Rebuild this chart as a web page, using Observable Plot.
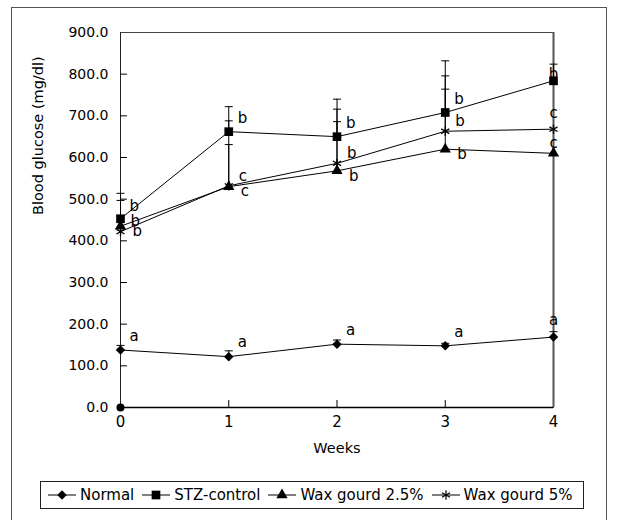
<!DOCTYPE html>
<html><head><meta charset="utf-8">
<script src="https://cdn.jsdelivr.net/npm/d3@7"></script>
<script src="https://cdn.jsdelivr.net/npm/@observablehq/plot@0.6"></script>
<style>
body{margin:0;background:#fff;}
#wrap{position:relative;width:618px;height:520px;overflow:hidden;font-family:"DejaVu Sans",sans-serif;background:#fff;}
#outer{position:absolute;left:11px;top:7px;width:594px;height:540px;border:1px solid #555;}
#chart{position:absolute;left:0;top:0;}
#legend{position:absolute;left:40px;top:481px;width:544px;height:28px;border:1px solid #222;box-sizing:border-box;display:flex;align-items:center;font-size:15px;padding-left:6px;color:#000;}
#legend .item{display:flex;align-items:center;margin-right:7px;}
#legend svg{margin-right:3px;}
</style></head><body>
<div id="wrap"><div id="outer"></div><div id="chart"></div><div id="legend"></div></div>
<script>
// ---- data ----
const weeks = [0, 1, 2, 3, 4];
const seriesNames = ["Normal", "STZ-control", "Wax gourd 2.5%", "Wax gourd 5%"];
const normalMean = [138, 122, 152, 148, 169];
const normalErr = [11, 14, 10, 6, 13];
const normalLetters = ["a", "a", "a", "a", "a"];
const stzMean = [453, 662, 650, 708, 784];
const stzErr = [61, 60, 90, 124, 40];
const stzLetters = ["b", "b", "b", "b", "b"];
const wax25Mean = [435, 530, 568, 620, 610];
const wax25Err = [62, 101, 118, 144, 0];
const wax25Letters = ["b", "c", "b", "b", "c"];
const wax5Mean = [422, 532, 586, 663, 668];
const wax5Err = [0, 156, 130, 133, 0];
const wax5Letters = ["b", "c", "b", "b", "c"];
const originPoint = [{week: 0, value: 0}];
const yTicks = [0, 100, 200, 300, 400, 500, 600, 700, 800, 900];
const yTickLabels = ["0.0", "100.0", "200.0", "300.0", "400.0", "500.0", "600.0", "700.0", "800.0", "900.0"];
const xTickLabels = ["0", "1", "2", "3", "4"];
const yLabel = "Blood glucose (mg/dl)";
const xLabel = "Weeks";

// ---- build ----
const build = (means, errs, letters) => weeks.map((w, i) => ({week: w, mean: means[i], err: errs[i], letter: letters[i]}));
const series = [
  {name: seriesNames[0], data: build(normalMean, normalErr, normalLetters), symbol: "diamond2", r: 4.3, stroke: false, ldx: 9, ldy: -14, l4dy: -17},
  {name: seriesNames[1], data: build(stzMean, stzErr, stzLetters), symbol: "square", r: 4.9, stroke: false, ldx: 9, ldy: -13, l4dy: -7},
  {name: seriesNames[2], data: build(wax25Mean, wax25Err, wax25Letters), symbol: "triangle", r: 4.2, stroke: false, ldx: 12, ldy: 5, l4dy: -10},
  {name: seriesNames[3], data: build(wax5Mean, wax5Err, wax5Letters), symbol: "asterisk", r: 4.4, stroke: true, ldx: 10, ldy: -10, l4dy: -16}
];

const W = 618, H = 470, mL = 120, mR = 65, mT = 32, mB = 63;
const plotW = W - mL - mR, plotH = H - mT - mB;
const capSymbol = {draw(ctx) { ctx.moveTo(-4, 0); ctx.lineTo(4, 0); }};
const lastWeek = weeks[weeks.length - 1];

const marks = [
  Plot.frame({stroke: "#444", strokeWidth: 1}),
  Plot.ruleX([lastWeek], {stroke: "#555", strokeWidth: 2}),
  Plot.ruleX([weeks[0]], {stroke: "#222", strokeWidth: 1}),
  Plot.ruleY([yTicks[0]], {stroke: "#000", strokeWidth: 1.5}),
  Plot.tickY(yTicks.slice(1, -1), {y: d => d, insetRight: plotW - 7, stroke: "#000"}),
  Plot.tickX(weeks.slice(1, -1), {x: d => d, insetTop: plotH - 7, stroke: "#000"}),
  Plot.axisY(yTicks, {tickSize: 0, tickPadding: 12, fontSize: 14, tickFormat: d => yTickLabels[yTicks.indexOf(d)], label: null}),
  Plot.axisX(weeks, {tickSize: 0, tickPadding: 9, fontSize: 15, tickFormat: d => xTickLabels[weeks.indexOf(d)], label: null}),
  Plot.text([xLabel], {text: d => d, frameAnchor: "bottom", dy: 45, fontSize: 14.5}),
  Plot.text([yLabel], {text: d => d, frameAnchor: "left", dx: -82, dy: -5, rotate: -90, fontSize: 14.5})
];

for (const s of series) {
  const withErr = s.data.filter(d => d.err > 0);
  marks.push(Plot.ruleX(withErr, {x: "week", y1: "mean", y2: d => d.mean + d.err, stroke: "#000", strokeWidth: 1}));
  marks.push(Plot.dot(withErr, {x: "week", y: d => d.mean + d.err, symbol: capSymbol, fill: "none", stroke: "#000", strokeWidth: 1}));
}
for (const s of series) {
  marks.push(Plot.line(s.data, {x: "week", y: "mean", stroke: "#000", strokeWidth: 1}));
}
marks.push(Plot.dot(originPoint, {x: "week", y: "value", r: 4, fill: "#000"}));
for (const s of series) {
  marks.push(Plot.dot(s.data, {x: "week", y: "mean", symbol: s.symbol, r: s.r,
    fill: s.stroke ? "none" : "#000", stroke: s.stroke ? "#000" : "none", strokeWidth: 1.3}));
  const early = s.data.filter(d => d.week < lastWeek);
  const last = s.data.filter(d => d.week === lastWeek);
  marks.push(Plot.text(early, {x: "week", y: "mean", text: "letter", textAnchor: "start", dx: s.ldx, dy: s.ldy, fontSize: 15}));
  marks.push(Plot.text(last, {x: "week", y: "mean", text: "letter", textAnchor: "middle", dy: s.l4dy, fontSize: 15}));
}

const chart = Plot.plot({
  width: W, height: H,
  marginLeft: mL, marginRight: mR, marginTop: mT, marginBottom: mB,
  style: {fontFamily: "DejaVu Sans, sans-serif", fontSize: "14px", color: "#000", background: "transparent"},
  x: {domain: [weeks[0], lastWeek]},
  y: {domain: [yTicks[0], yTicks[yTicks.length - 1]]},
  marks
});
document.getElementById("chart").appendChild(chart);

// ---- legend ----
const legend = document.getElementById("legend");
const symMap = {"diamond2": d3.symbolDiamond2, "square": d3.symbolSquare, "triangle": d3.symbolTriangle, "asterisk": d3.symbolAsterisk};
for (const s of series) {
  const item = document.createElement("div");
  item.className = "item";
  const size = Math.PI * s.r * s.r;
  const path = d3.symbol(symMap[s.symbol], size)();
  item.innerHTML = `<svg width="30" height="14"><line x1="1" x2="29" y1="7" y2="7" stroke="#000"/>` +
    `<path d="${path}" transform="translate(15,7)" fill="${s.stroke ? "none" : "#000"}" stroke="${s.stroke ? "#000" : "none"}" stroke-width="1.2"/></svg>` +
    `<span>${s.name}</span>`;
  legend.appendChild(item);
}
</script>
</body></html>
